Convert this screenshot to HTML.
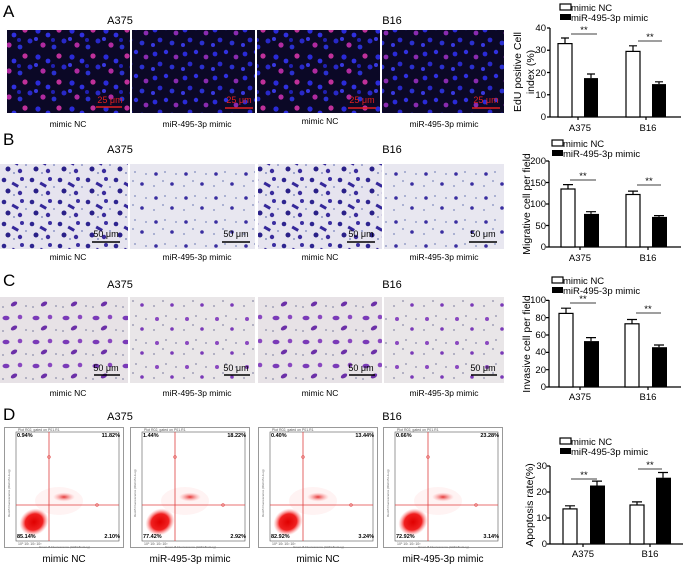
<!DOCTYPE html>
<html><head><meta charset="utf-8"><style>
html,body{margin:0;padding:0;background:#fff;}
svg{display:block;font-family:"Liberation Sans",Arial,sans-serif;}
</style></head><body>
<svg width="685" height="568" viewBox="0 0 685 568" xmlns="http://www.w3.org/2000/svg">
<defs>
<pattern id="edu" width="34" height="26" patternUnits="userSpaceOnUse">
<rect width="34" height="26" fill="#0b0826"/>
<circle cx="4" cy="5" r="2.6" fill="#2a2ad8"/><circle cx="14" cy="9" r="2.4" fill="#3030e0"/>
<circle cx="25" cy="4" r="2.6" fill="#c0309a"/><circle cx="30" cy="15" r="2.5" fill="#2828c8"/>
<circle cx="9" cy="19" r="2.6" fill="#b02aa0"/><circle cx="20" cy="21" r="2.4" fill="#2a30d0"/>
<circle cx="19" cy="14" r="2" fill="#2020b0"/><circle cx="2" cy="13" r="2" fill="#3838e0"/>
</pattern>
<pattern id="edu2" width="30" height="24" patternUnits="userSpaceOnUse">
<rect width="30" height="24" fill="#0b0826"/>
<circle cx="5" cy="6" r="2.4" fill="#2a2ad8"/><circle cx="16" cy="4" r="2.2" fill="#3030e0"/>
<circle cx="26" cy="9" r="2.4" fill="#8a2ab0"/><circle cx="10" cy="16" r="2.4" fill="#2828c8"/>
<circle cx="22" cy="19" r="2.4" fill="#2a30d0"/><circle cx="3" cy="21" r="2" fill="#3838e0"/>
</pattern>
<pattern id="mig" width="28" height="22" patternUnits="userSpaceOnUse">
<rect width="28" height="22" fill="#e6e4ef"/>
<circle cx="4" cy="4" r="2.3" fill="#2e2590"/><rect x="12" y="7" width="7" height="3" fill="#35289a" transform="rotate(30 15 8)"/>
<circle cx="22" cy="3" r="2" fill="#3b2ea0"/><circle cx="8" cy="15" r="2.5" fill="#2a2088"/>
<circle cx="20" cy="17" r="2.2" fill="#3a2c9c"/><circle cx="14" cy="19" r="1" fill="#8890c0"/>
<circle cx="26" cy="11" r="1" fill="#9098c8"/>
</pattern>
<pattern id="mig2" width="30" height="24" patternUnits="userSpaceOnUse">
<rect width="30" height="24" fill="#e8e7f0"/>
<circle cx="6" cy="6" r="1.8" fill="#3a2ea0"/><circle cx="22" cy="16" r="1.8" fill="#3a2ea0"/>
<circle cx="15" cy="4" r="1" fill="#98a0c8"/><circle cx="4" cy="18" r="1" fill="#98a0c8"/>
<circle cx="26" cy="6" r="1" fill="#98a0c8"/><circle cx="13" cy="13" r="1" fill="#98a0c8"/>
</pattern>
<pattern id="inv" width="30" height="24" patternUnits="userSpaceOnUse">
<rect width="30" height="24" fill="#e7e2e6"/>
<ellipse cx="6" cy="6" rx="3.5" ry="2.3" fill="#7a3ab8"/><circle cx="20" cy="5" r="2.3" fill="#8a48c0"/>
<ellipse cx="14" cy="16" rx="3.5" ry="2" fill="#6c30a8" transform="rotate(-30 14 16)"/>
<circle cx="26" cy="18" r="1" fill="#a0a0b8"/><circle cx="3" cy="19" r="1" fill="#a0a0b8"/>
</pattern>
<pattern id="inv2" width="30" height="24" patternUnits="userSpaceOnUse">
<rect width="30" height="24" fill="#e9e6e8"/>
<circle cx="7" cy="7" r="2" fill="#8a48c0"/><circle cx="22" cy="17" r="1.8" fill="#7a3ab8"/>
<circle cx="16" cy="4" r="1" fill="#a0a0b8"/><circle cx="4" cy="18" r="1" fill="#a0a0b8"/>
<circle cx="26" cy="7" r="1" fill="#a0a0b8"/><circle cx="13" cy="13" r="1" fill="#a0a0b8"/>
</pattern>
<radialGradient id="cloud"><stop offset="0" stop-color="#e00000"/><stop offset="0.6" stop-color="#f02020"/><stop offset="1" stop-color="#ff8080" stop-opacity="0"/></radialGradient>
<radialGradient id="cloud2"><stop offset="0" stop-color="#e02020" stop-opacity="0.9"/><stop offset="1" stop-color="#ff9090" stop-opacity="0"/></radialGradient>
<g id="flow">
<rect x="0.5" y="0.5" width="119" height="120" fill="#fff" stroke="#999"/>
<text x="14" y="4" font-size="3.5" fill="#555">Plot R02, gated on P01.R1</text>
<rect x="12" y="5" width="103" height="109" fill="none" stroke="#555" stroke-width="0.6"/>
<ellipse cx="55" cy="74" rx="24" ry="14" fill="#ffd8d8" opacity="0.3"/>
<ellipse cx="60" cy="70" rx="11" ry="4.5" fill="url(#cloud2)"/>
<ellipse cx="30" cy="95" rx="15" ry="13" fill="url(#cloud)" transform="rotate(-30 30 95)"/>
<line x1="45" y1="5" x2="45" y2="114" stroke="#e04040" stroke-width="0.8"/>
<line x1="12" y1="78" x2="115" y2="78" stroke="#e04040" stroke-width="0.8"/>
<circle cx="45" cy="30" r="1.3" fill="none" stroke="#e04040" stroke-width="0.6"/>
<circle cx="93" cy="78" r="1.3" fill="none" stroke="#e04040" stroke-width="0.6"/>
<text x="14" y="118" font-size="3.5" fill="#555">10⁰    10¹    10²    10³</text>
<text x="35" y="121" font-size="3" fill="#666">Green-B Fluorescence (GRN-B-HLog)</text>
<text transform="translate(6 90) rotate(-90)" font-size="3" fill="#666">Red-B Fluorescence (RED-B-HLog)</text>
</g>
</defs>

<g font-size="17" fill="#000">
<text x="3" y="17">A</text><text x="3" y="145">B</text><text x="3" y="286">C</text><text x="3" y="420">D</text>
</g>
<g font-size="11" text-anchor="middle">
<text x="120" y="24">A375</text><text x="392" y="24">B16</text>
<text x="120" y="153">A375</text><text x="392" y="153">B16</text>
<text x="120" y="288">A375</text><text x="392" y="288">B16</text>
<text x="120" y="420">A375</text><text x="392" y="420">B16</text>
</g>

<rect x="7" y="30" width="123" height="83" fill="url(#edu)"/>
<rect x="132" y="30" width="123" height="83" fill="url(#edu2)"/>
<rect x="257" y="30" width="123" height="83" fill="url(#edu)"/>
<rect x="382" y="30" width="122" height="83" fill="url(#edu2)"/>
<g fill="#e02020" font-size="9" text-anchor="middle">
<text x="110" y="103">25 μm</text><line x1="96" y1="107" x2="122" y2="107" stroke="#e02020" stroke-width="1.6"/>
<text x="239" y="103">25 μm</text><line x1="225" y1="108" x2="253" y2="108" stroke="#e02020" stroke-width="1.6"/>
<text x="362" y="103">25 μm</text><line x1="348" y1="108" x2="376" y2="108" stroke="#e02020" stroke-width="1.6"/>
<text x="486" y="103">25 μm</text><line x1="472" y1="108" x2="500" y2="108" stroke="#e02020" stroke-width="1.6"/>
</g>
<g font-size="8.5" text-anchor="middle">
<text x="68" y="127">mimic NC</text><text x="197" y="127">miR-495-3p mimic</text>
<text x="320" y="124">mimic NC</text><text x="444" y="127">miR-495-3p mimic</text>
</g>

<rect x="0" y="164" width="128" height="85" fill="url(#mig)"/>
<rect x="130" y="164" width="125" height="85" fill="url(#mig2)"/>
<rect x="258" y="164" width="124" height="85" fill="url(#mig)"/>
<rect x="384" y="164" width="120" height="85" fill="url(#mig2)"/>
<g font-size="9" text-anchor="middle">
<text x="106" y="237">50 μm</text><line x1="92" y1="242" x2="120" y2="242" stroke="#000" stroke-width="1.6"/>
<text x="236" y="237">50 μm</text><line x1="222" y1="242" x2="250" y2="242" stroke="#000" stroke-width="1.6"/>
<text x="361" y="237">50 μm</text><line x1="347" y1="242" x2="375" y2="242" stroke="#000" stroke-width="1.6"/>
<text x="483" y="237">50 μm</text><line x1="469" y1="242" x2="497" y2="242" stroke="#000" stroke-width="1.6"/>
</g>
<g font-size="8.5" text-anchor="middle">
<text x="68" y="260">mimic NC</text><text x="197" y="260">miR-495-3p mimic</text>
<text x="320" y="260">mimic NC</text><text x="444" y="260">miR-495-3p mimic</text>
</g>

<rect x="0" y="297" width="128" height="86" fill="url(#inv)"/>
<rect x="130" y="297" width="125" height="86" fill="url(#inv2)"/>
<rect x="258" y="297" width="124" height="86" fill="url(#inv)"/>
<rect x="384" y="297" width="120" height="86" fill="url(#inv2)"/>
<g font-size="9" text-anchor="middle">
<text x="106" y="371">50 μm</text><line x1="94" y1="375" x2="120" y2="375" stroke="#000" stroke-width="1.6"/>
<text x="236" y="371">50 μm</text><line x1="224" y1="375" x2="250" y2="375" stroke="#000" stroke-width="1.6"/>
<text x="361" y="371">50 μm</text><line x1="349" y1="375" x2="375" y2="375" stroke="#000" stroke-width="1.6"/>
<text x="483" y="371">50 μm</text><line x1="471" y1="375" x2="497" y2="375" stroke="#000" stroke-width="1.6"/>
</g>
<g font-size="8.5" text-anchor="middle">
<text x="68" y="396">mimic NC</text><text x="197" y="396">miR-495-3p mimic</text>
<text x="320" y="396">mimic NC</text><text x="444" y="396">miR-495-3p mimic</text>
</g>

<use href="#flow" x="4" y="427"/><use href="#flow" x="130" y="427"/>
<use href="#flow" x="258" y="427"/><use href="#flow" x="383" y="427"/>
<g font-size="5.5" font-weight="bold">
<text x="17" y="437">0.94%</text><text x="120" y="437" text-anchor="end">11.82%</text>
<text x="17" y="538">85.14%</text><text x="120" y="538" text-anchor="end">2.10%</text>
<text x="143" y="437">1.44%</text><text x="246" y="437" text-anchor="end">18.22%</text>
<text x="143" y="538">77.42%</text><text x="246" y="538" text-anchor="end">2.92%</text>
<text x="271" y="437">0.40%</text><text x="374" y="437" text-anchor="end">13.44%</text>
<text x="271" y="538">82.92%</text><text x="374" y="538" text-anchor="end">3.24%</text>
<text x="396" y="437">0.66%</text><text x="499" y="437" text-anchor="end">23.28%</text>
<text x="396" y="538">72.92%</text><text x="499" y="538" text-anchor="end">3.14%</text>
</g>
<g font-size="10" text-anchor="middle">
<text x="64" y="562">mimic NC</text><text x="190" y="562">miR-495-3p mimic</text>
<text x="318" y="562">mimic NC</text><text x="443" y="562">miR-495-3p mimic</text>
</g>

<g font-size="9.5" stroke-width="1.2">
<rect x="560" y="4" width="11" height="6" fill="#fff" stroke="#000"/><text x="571" y="11">mimic NC</text>
<rect x="560" y="14" width="11" height="6" fill="#000"/><text x="571" y="21">miR-495-3p mimic</text>
<text transform="translate(521 72) rotate(-90)" text-anchor="middle" font-size="10.5">EdU positive Cell</text>
<text transform="translate(534 72) rotate(-90)" text-anchor="middle" font-size="10.5">index (%)</text>
<g text-anchor="end"><text x="546" y="120">0</text><text x="546" y="98">10</text><text x="546" y="76">20</text><text x="546" y="53">30</text><text x="546" y="31">40</text></g>
<path d="M550 28V117H681M547 117H550M547 94.75H550M547 72.5H550M547 50.25H550M547 28H550M578 117V120M646 117V120" stroke="#000" fill="none"/>
<path d="M565 43.6V38M591 78.1V74M633 51.4V45.8M659 84.1V81.8M561 38H569M587 74H595M629 45.8H637M655 81.8H663" stroke="#000"/>
<rect x="558" y="43.6" width="14" height="73.4" fill="#fff" stroke="#000"/><rect x="584" y="78.1" width="14" height="38.9" fill="#000"/>
<rect x="626" y="51.4" width="14" height="65.6" fill="#fff" stroke="#000"/><rect x="652" y="84.1" width="14" height="32.9" fill="#000"/>
<path d="M571 34H597M638 41H662" stroke="#000" stroke-width="0.8"/>
<text x="584" y="33" text-anchor="middle">**</text><text x="650" y="40" text-anchor="middle">**</text>
<text x="580" y="131" text-anchor="middle">A375</text><text x="648" y="131" text-anchor="middle">B16</text>

<rect x="552" y="140" width="11" height="6" fill="#fff" stroke="#000"/><text x="563" y="147">mimic NC</text>
<rect x="552" y="150" width="11" height="6" fill="#000"/><text x="563" y="157">miR-495-3p mimic</text>
<text transform="translate(530 204) rotate(-90)" text-anchor="middle" font-size="10.5">Migrative cell per field</text>
<g text-anchor="end"><text x="546" y="250">0</text><text x="546" y="229">50</text><text x="546" y="207">100</text><text x="546" y="186">150</text><text x="546" y="164">200</text></g>
<path d="M549 161V247H681M546 247H549M546 225.5H549M546 204H549M546 182.5H549M546 161H549M580 247V250M648 247V250" stroke="#000" fill="none"/>
<path d="M568 189V184.6M591 213.9V211.7M633 194.5V191.1M659 216.9V215.6M563 184.6H573M586 211.7H596M628 191.1H638M654 215.6H664" stroke="#000"/>
<rect x="561" y="189" width="14" height="58" fill="#fff" stroke="#000"/><rect x="584" y="213.9" width="15" height="33.1" fill="#000"/>
<rect x="626" y="194.5" width="14" height="52.5" fill="#fff" stroke="#000"/><rect x="652" y="216.9" width="15" height="30.1" fill="#000"/>
<path d="M570 180H596M637 185H661" stroke="#000" stroke-width="0.8"/>
<text x="583" y="179" text-anchor="middle">**</text><text x="649" y="184" text-anchor="middle">**</text>
<text x="580" y="261" text-anchor="middle">A375</text><text x="648" y="261" text-anchor="middle">B16</text>

<rect x="552" y="277" width="11" height="6" fill="#fff" stroke="#000"/><text x="563" y="284">mimic NC</text>
<rect x="552" y="287" width="11" height="6" fill="#000"/><text x="563" y="294">miR-495-3p mimic</text>
<text transform="translate(530 344) rotate(-90)" text-anchor="middle" font-size="10.5">Invasive cell per field</text>
<g text-anchor="end"><text x="546" y="390">0</text><text x="546" y="373">20</text><text x="546" y="355">40</text><text x="546" y="338">60</text><text x="546" y="321">80</text><text x="546" y="303">100</text></g>
<path d="M549 300V387H681M546 387H549M546 369.7H549M546 352.4H549M546 335H549M546 317.6H549M546 300.4H549M580 387V390M648 387V390" stroke="#000" fill="none"/>
<path d="M566 313.4V308.2M591 341.1V337.6M632 323.8V319.5M659 347.2V345M561 308.2H571M586 337.6H596M627 319.5H637M654 345H664" stroke="#000"/>
<rect x="559" y="313.4" width="14" height="73.6" fill="#fff" stroke="#000"/><rect x="584" y="341.1" width="15" height="45.9" fill="#000"/>
<rect x="625" y="323.8" width="14" height="63.2" fill="#fff" stroke="#000"/><rect x="652" y="347.2" width="15" height="39.8" fill="#000"/>
<path d="M570 303H596M636 313H661" stroke="#000" stroke-width="0.8"/>
<text x="583" y="302" text-anchor="middle">**</text><text x="648" y="312" text-anchor="middle">**</text>
<text x="580" y="400" text-anchor="middle">A375</text><text x="648" y="400" text-anchor="middle">B16</text>

<rect x="560" y="438" width="11" height="6" fill="#fff" stroke="#000"/><text x="571" y="445">mimic NC</text>
<rect x="560" y="448" width="11" height="6" fill="#000"/><text x="571" y="455">miR-495-3p mimic</text>
<text transform="translate(533 505) rotate(-90)" text-anchor="middle" font-size="10.5">Apoptosis rate(%)</text>
<g text-anchor="end"><text x="547" y="547">0</text><text x="547" y="521">10</text><text x="547" y="495">20</text><text x="547" y="469">30</text></g>
<path d="M550 466V544H683M547 544H550M547 518H550M547 492H550M547 466H550M583 544V547M650 544V547" stroke="#000" fill="none"/>
<path d="M570 508.9V505.8M597 485.5V481.1M637 505V501.9M663 477.7V472.5M565 505.8H575M592 481.1H602M632 501.9H642M658 472.5H668" stroke="#000"/>
<rect x="563" y="508.9" width="14" height="35.1" fill="#fff" stroke="#000"/><rect x="590" y="485.5" width="15" height="58.5" fill="#000"/>
<rect x="630" y="505" width="14" height="39" fill="#fff" stroke="#000"/><rect x="656" y="477.7" width="15" height="66.3" fill="#000"/>
<path d="M571 479H597M638 469H662" stroke="#000" stroke-width="0.8"/>
<text x="584" y="478" text-anchor="middle">**</text><text x="650" y="468" text-anchor="middle">**</text>
<text x="583" y="557" text-anchor="middle">A375</text><text x="650" y="557" text-anchor="middle">B16</text>
</g>
</svg>
</body></html>
